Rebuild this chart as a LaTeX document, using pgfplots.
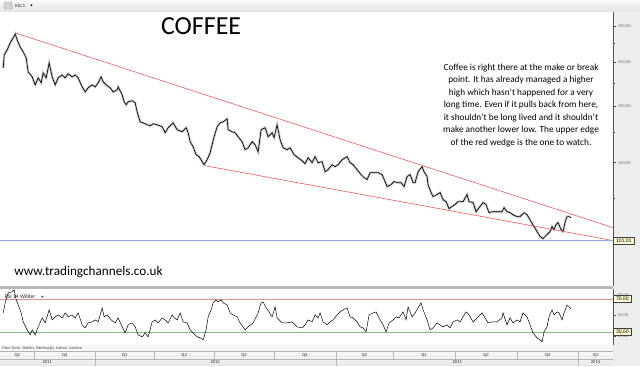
\documentclass[border=0pt]{standalone}
\usepackage{fontspec}
\setmainfont{Carlito}
\usepackage{pgfplots}
\usepackage{pgfplotstable}
\pgfplotsset{compat=1.18}
\definecolor{wedge}{HTML}{EE5A55}
\definecolor{bline}{HTML}{8DB0E8}
\definecolor{obline}{HTML}{E89090}
\definecolor{osline}{HTML}{88B888}
\definecolor{tickgray}{HTML}{6A6A6A}

\pgfplotstableread{
x p
3 242.5
4 259.1
7 265.8
10 275.3
15 288.1
17 279.5
20 269.8
23 263.1
26 255.2
28 237.7
32 231.8
35 222.6
38 230.6
41 224.9
43 236.5
46 230.6
49 248.8
52 231.8
55 222.6
58 230.6
62 234.1
65 230.6
68 235.3
72 231.8
75 234.1
78 230.6
82 220.3
85 214.8
88 219.3
92 222.6
95 220.3
98 224.9
101 231.8
103 226.0
106 222.6
110 219.3
113 214.8
117 217.1
118 220.3
122 211.6
124 204.3
126 201.2
128 204.3
132 205.3
135 203.3
137 194.2
140 184.5
143 183.6
147 181.8
150 180.9
153 182.7
157 181.8
162 180.0
165 174.6
168 179.1
173 183.6
177 177.3
182 175.5
186 179.1
188 174.6
190 166.8
193 162.6
196 156.2
199 154.6
202 150.8
204 148.5
207 152.3
210 157.8
212 164.3
214 171.1
217 180.0
220 183.6
223 184.5
227 187.4
228 177.3
232 175.5
235 174.6
238 171.1
242 166.8
245 160.2
248 161.8
252 166.8
255 164.3
258 158.5
261 177.3
265 179.1
268 171.1
272 174.6
274 170.3
277 181.8
280 168.5
283 161.8
287 160.2
290 161.8
294 156.2
298 153.8
302 151.5
305 149.2
308 153.8
312 150.0
315 154.6
318 150.0
322 150.8
325 143.3
328 144.8
332 148.5
335 147.0
338 148.5
342 152.3
347 154.6
350 150.0
353 148.5
357 144.8
361 141.2
364 139.1
367 137.7
370 142.6
374 142.6
378 142.6
382 141.2
385 136.3
387 132.9
391 134.2
394 136.3
397 135.6
401 135.6
404 132.9
407 139.8
410 141.2
413 135.6
415 135.6
418 143.3
422 147.0
424 143.3
427 139.8
428 134.2
431 128.9
433 126.3
437 127.6
440 128.9
443 124.4
446 123.1
449 118.8
452 120.1
455 121.3
458 123.1
460 123.1
463 123.1
467 127.6
469 123.1
473 122.5
476 117.0
479 119.4
483 122.5
486 121.3
489 116.4
492 117.0
497 117.0
502 117.0
504 119.4
507 117.0
510 116.4
513 115.2
517 114.1
520 114.1
524 116.4
527 115.2
531 111.3
534 108.5
537 105.8
540 103.2
543 102.1
545 103.2
547 104.2
550 105.8
552 108.5
554 106.9
556 109.6
558 110.7
561 106.9
563 105.8
565 110.7
567 114.1
569 114.1
571 113.5
}\price

\pgfplotstableread{
x r
3 53.0
5 65.2
8 77.3
12 78.5
14 80.9
16 68.8
18 62.7
21 53.0
23 42.1
27 32.4
30 26.4
32 32.4
35 26.4
38 36.1
42 47.0
45 40.9
49 56.7
52 44.5
55 48.2
58 50.6
62 47.0
65 53.0
68 48.2
72 50.6
75 47.0
78 53.0
82 38.5
85 34.8
88 40.9
92 42.1
95 44.5
98 42.1
102 59.1
104 48.2
107 50.6
111 44.5
115 40.9
118 47.0
122 36.1
125 28.8
128 38.5
132 40.9
135 36.1
138 26.4
142 23.9
145 28.8
148 23.9
152 42.1
155 44.5
158 40.9
162 47.0
165 44.5
168 40.9
172 50.6
174 47.0
177 44.5
180 53.0
183 42.1
187 40.9
190 32.4
193 28.8
197 23.9
200 22.7
203 20.3
206 32.4
208 48.2
211 56.7
213 65.2
216 68.8
218 66.4
221 68.8
223 65.2
227 62.7
230 53.0
233 50.6
237 48.2
240 40.9
245 32.4
248 36.1
253 40.9
258 53.0
261 65.2
263 66.4
266 59.1
269 54.2
272 48.2
275 60.3
277 47.0
282 40.9
287 40.9
292 42.1
297 36.1
302 34.8
305 38.5
308 44.5
312 42.1
315 50.6
318 47.0
320 53.0
323 42.1
327 38.5
330 42.1
333 44.5
337 50.6
340 54.2
343 56.7
347 59.1
350 48.2
353 47.0
357 42.1
360 36.1
363 34.8
366 30.0
369 50.6
373 53.0
376 54.2
379 47.0
383 38.5
386 30.0
389 40.9
393 44.5
396 48.2
399 47.0
403 54.2
406 44.5
408 60.3
412 48.2
415 53.0
418 59.1
421 65.2
423 56.7
427 44.5
430 32.4
433 34.8
437 40.9
440 38.5
443 36.1
447 38.5
450 34.8
453 42.1
457 44.5
460 42.1
463 48.2
466 54.2
469 50.6
473 42.1
477 47.0
482 53.0
485 47.0
488 40.9
492 42.1
497 42.1
502 47.0
503 53.0
507 38.5
510 47.0
513 40.9
517 44.5
520 42.1
523 53.0
527 48.2
530 38.5
533 28.8
537 22.7
540 20.3
542 17.9
544 30.0
547 36.1
549 48.2
552 56.7
554 50.6
557 54.2
559 53.0
562 44.5
564 53.0
567 62.7
569 60.3
571 57.9
}\rsi

\begin{document}
\begin{tikzpicture}
\begin{scope}[x=1pt,y=1pt]
\fill[white] (0,0) rectangle (640,366);
\shade[top color=gray!4, bottom color=gray!22] (0,354) rectangle (640,366);
\fill[gray!14] (613,0) rectangle (640,354);
\fill[gray!7] (0,15) rectangle (613,21);
\shade[top color=gray!5, bottom color=gray!15] (0,7) rectangle (613,15);
\shade[top color=gray!10, bottom color=gray!20] (0,0) rectangle (613,7);
\fill[gray!55] (0,77) rectangle (613,79.5);
\end{scope}

\begin{axis}[at={(0pt,79.5pt)}, anchor=south west, scale only axis,
  width=613pt, height=274.5pt, xmin=0, xmax=613,
  ymode=log, ymin=80.1, ymax=322.1,
  axis x line=none, axis y line*=right,
  y axis line style={draw=gray!65!black, line width=0.7pt},
  ytick={150,200,250,300}, yticklabels={150.00,200.00,250.00,300.00},
  minor ytick={100,125,175,225,275},
  tick align=outside, major tick length=3pt, minor tick length=2pt,
  ytick style={draw=gray!65!black, line width=0.4pt},
  yticklabel style={font=\fontsize{4.5}{5}\selectfont, text=tickgray, xshift=-1.5pt}]
\addplot[gray!40, line width=2.4pt] table[x=x, y=p] {\price};
\addplot[black, line width=0.65pt] table[x=x, y=p] {\price};
\addplot[wedge, line width=0.6pt] coordinates {(15,289.7) (613,107.9)};
\addplot[wedge, line width=0.6pt] coordinates {(205,147.7) (613,101.05)};
\addplot[bline, line width=1.2pt] coordinates {(0,101.01) (613,101.01)};
\end{axis}

\begin{axis}[at={(0pt,21pt)}, anchor=south west, scale only axis,
  width=613pt, height=56pt, xmin=0, xmax=613,
  ymin=14.2, ymax=82.1,
  axis x line=none, axis y line*=right,
  y axis line style={draw=gray!65!black, line width=0.7pt},
  ytick={25,50,75}, yticklabels={25.00,50.00,75.00},
  tick align=outside, major tick length=3pt,
  ytick style={draw=gray!65!black, line width=0.4pt},
  yticklabel style={font=\fontsize{4.5}{5}\selectfont, text=tickgray, xshift=-1.5pt}]
\addplot[obline, line width=0.7pt] coordinates {(0,70) (613,70)};
\addplot[osline, line width=0.7pt] coordinates {(0,30) (613,30)};
\addplot[black, line width=0.5pt] table[x=x, y=r] {\rsi};
\end{axis}

\begin{scope}[x=1pt,y=1pt]
\foreach \yy/\lab in {125/101.01, 67/70.00, 34/30.00}{
  \node[draw=gray!50!black, fill=yellow!18, inner xsep=2.5pt, inner ysep=1.5pt,
    anchor=west, font=\fontsize{5.5}{6}\selectfont] at (613.3,\yy) {\lab};
}
\draw[gray!70, fill=gray!35, rounded corners=0.5pt] (4,357) rectangle (12,364);
\node[anchor=west, font=\fontsize{5}{6}\selectfont, text=gray!30!black, inner sep=0] at (15,360.5) {KCc1};
\fill[gray!30!black] (30,361.5) -- (32.4,361.5) -- (31.2,359.7) -- cycle;
\node[anchor=west, font=\fontsize{5.6}{6}\selectfont, text=gray!30!black, inner sep=0] at (4.5,69) {RSI 14 Wilder};
\fill[gray!30!black] (41,70) -- (43.4,70) -- (42.2,68.2) -- cycle;
\node[anchor=west, font=\fontsize{4.3}{5}\selectfont, text=gray!60!black, inner sep=0] at (1.5,18) {Time Zone: Dublin, Edinburgh, Lisbon, London};
\foreach \xx in {34,154,214,274,393,455,517}{\draw[gray!55] (\xx,7) -- (\xx,15);}
\foreach \xx in {95,336,578}{\draw[gray!55] (\xx,0) -- (\xx,15);}
\draw[gray!60] (0,15) -- (613,15);
\draw[gray!60] (0,7) -- (613,7);
\foreach \xx/\lab in {17/Q2, 64.5/Q4, 124.5/Q1, 184/Q2, 244/Q3, 305/Q4, 364.5/Q1, 424/Q2, 486/Q3, 547.5/Q4, 595.5/Q1}{
  \node[font=\fontsize{4.5}{5}\selectfont, text=gray!30!black, inner sep=0] at (\xx,11) {\lab};
}
\foreach \xx/\lab in {47/2011, 215/2012, 457/2013, 595.5/2014}{
  \node[font=\fontsize{4.5}{5}\selectfont, text=gray!30!black, inner sep=0] at (\xx,3.5) {\lab};
}
\node[font=\fontsize{26}{30}\selectfont, inner sep=0] at (201,339.5) {COFFEE};
\node[anchor=west, font=\fontsize{13.2}{15}\selectfont, inner sep=0] at (14,94) {www.tradingchannels.co.uk};
\node[align=center, font=\fontsize{9.3}{12.45}\selectfont, inner sep=0] at (521,260.5) {Coffee is right there at the make or break\\point. It has already managed a higher\\high which hasn't happened for a very\\long time. Even if it pulls back from here,\\it shouldn't be long lived and it shouldn't\\make another lower low. The upper edge\\of the red wedge is the one to watch.};
\end{scope}
\end{tikzpicture}
\end{document}
